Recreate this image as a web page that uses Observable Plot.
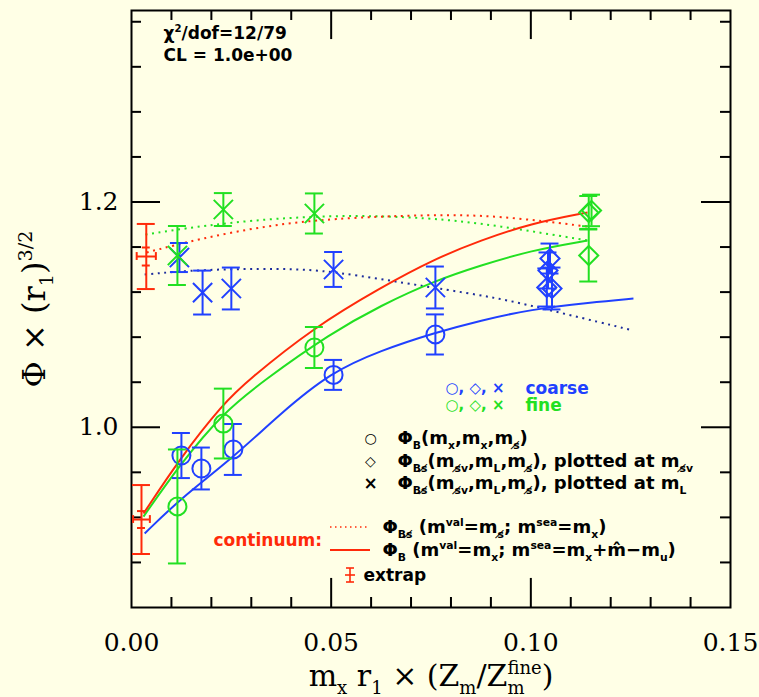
<!DOCTYPE html>
<html>
<head>
<meta charset="utf-8">
<script src="https://cdn.jsdelivr.net/npm/d3@7"></script>
<script src="https://cdn.jsdelivr.net/npm/@observablehq/plot@0.6"></script>
<style>
html,body{margin:0;padding:0;background:#ffffe6;}
svg{display:block;}
</style>
</head>
<body>
<div id="chart"></div>
<script>
// ---------------- data ----------------
// points: [x, y, yErr]
const coarseCircle = [
  [0.0125, 0.9749, 0.0200],
  [0.0175, 0.9634, 0.0186],
  [0.0255, 0.9803, 0.0226],
  [0.0506, 1.0465, 0.0133],
  [0.0761, 1.0824, 0.0178]
];
const fineCircle = [
  [0.0115, 0.9297, 0.0506],
  [0.0230, 1.0033, 0.0310],
  [0.0458, 1.0708, 0.0182]
];
const coarseDiamond = [
  [0.1048, 1.1498, 0.0133],
  [0.1043, 1.1392, 0.0160],
  [0.1040, 1.1241, 0.0169],
  [0.1053, 1.1232, 0.0186]
];
const fineDiamond = [
  [0.1145, 1.1907, 0.0146],
  [0.1152, 1.1925, 0.0140],
  [0.1145, 1.1525, 0.0231]
];
const coarseCross = [
  [0.0120, 1.1507, 0.0129],
  [0.0178, 1.1196, 0.0195],
  [0.0250, 1.1232, 0.0186],
  [0.0506, 1.1401, 0.0155],
  [0.0761, 1.1241, 0.0186]
];
const fineCross = [
  [0.0115, 1.1525, 0.0262],
  [0.0230, 1.1933, 0.0146],
  [0.0458, 1.1898, 0.0178]
];
// extrapolated: [x, y, yErrTotal, yErrStat, xErr]
const extrap = [
  [0.0037, 1.1516, 0.0289, 0.0080, 0.0024],
  [0.0025, 0.9181, 0.0306, 0.0075, 0.0021]
];
// fit curves: [x, y]
const redSolid = [
  [0.0030, 0.9234], [0.0123, 0.9732], [0.0230, 1.0211], [0.0291, 1.0415], [0.0456, 1.0885],
  [0.0624, 1.1241], [0.0761, 1.1498], [0.0874, 1.1658], [0.0999, 1.1809], [0.1142, 1.1907]
];
const greenSolid = [
  [0.0030, 0.9207], [0.0123, 0.9678], [0.0230, 1.0131], [0.0331, 1.0415], [0.0498, 1.0832],
  [0.0624, 1.1081], [0.0761, 1.1303], [0.0874, 1.1436], [0.0999, 1.1569], [0.1142, 1.1658]
];
const blueSolid = [
  [0.0033, 0.9057], [0.0123, 0.9368], [0.0255, 0.9732], [0.0373, 1.0122], [0.0498, 1.0486],
  [0.0624, 1.0682], [0.0761, 1.0841], [0.0874, 1.0948], [0.0999, 1.1046], [0.1150, 1.1108], [0.1257, 1.1143]
];
const redDotted = [
  [0.0038, 1.1552], [0.0173, 1.1676], [0.0341, 1.1791], [0.0498, 1.1853],
  [0.0749, 1.1889], [0.0917, 1.1880], [0.1142, 1.1782]
];
const greenDotted = [
  [0.0035, 1.1711], [0.0230, 1.1818], [0.0498, 1.1889], [0.0749, 1.1862],
  [0.0917, 1.1791], [0.1142, 1.1658]
];
const blueDotted = [
  [0.0033, 1.1356], [0.0173, 1.1401], [0.0373, 1.1410], [0.0498, 1.1392],
  [0.0749, 1.1241], [0.0917, 1.1152], [0.1082, 1.1010], [0.1257, 1.0859]
];
// ticks
const xMajorTicks = [0.05, 0.10];
const xMinorTicks = [0.01, 0.02, 0.03, 0.04, 0.06, 0.07, 0.08, 0.09, 0.11, 0.12, 0.13, 0.14];
const yMajorTicks = [1.0, 1.2];
const yMinorTicks = [0.88, 0.92, 0.96, 1.04, 1.08, 1.12, 1.16, 1.24, 1.28, 1.32, 1.36];
const xTickLabels = [0.00, 0.05, 0.10, 0.15];
const yTickLabels = [1.0, 1.2];

// ---------------- styles ----------------
const BLUE = "#2040ff", GREEN = "#22e022", RED = "#ff2a0a", NAVY = "#1c2c9c";
const X_DOMAIN = [0, 0.15], Y_DOMAIN = [0.84, 1.37];
const SERIF = "DejaVu Serif", SANS = "DejaVu Sans";
const CAP = 0.00225;           // error bar cap half-width (x units)
const TX_MAJ = 0.0258, TX_MIN = 0.0089;  // x-axis tick lengths (y units)
const TY_MAJ = 0.00726, TY_MIN = 0.0025; // y-axis tick lengths (x units)

function errBars(pts, color) {
  return [
    Plot.ruleX(pts, {x: d => d[0], y1: d => d[1] - d[2], y2: d => d[1] + d[2], stroke: color, strokeWidth: 2}),
    Plot.ruleY(pts, {y: d => d[1] + d[2], x1: d => d[0] - CAP, x2: d => d[0] + CAP, stroke: color, strokeWidth: 2}),
    Plot.ruleY(pts, {y: d => d[1] - d[2], x1: d => d[0] - CAP, x2: d => d[0] + CAP, stroke: color, strokeWidth: 2})
  ];
}
function dots(pts, color, symbol, r) {
  return Plot.dot(pts, {x: d => d[0], y: d => d[1], symbol, r, stroke: color, strokeWidth: 2, fill: "none"});
}
function curve(pts, color, dotted) {
  return Plot.line(pts, {x: d => d[0], y: d => d[1], stroke: color, strokeWidth: 2,
    strokeDasharray: dotted ? "2,4.6" : null, strokeLinecap: "butt", curve: "basis"});
}
const yMin = Y_DOMAIN[0], yMax = Y_DOMAIN[1], xMin = X_DOMAIN[0], xMax = X_DOMAIN[1];
const tickStyle = {stroke: "black", strokeWidth: 2};

function label(text, dx, dy, opts = {}) {
  return Plot.text([text], {frameAnchor: "top-left", dx, dy, textAnchor: "start", lineAnchor: "middle",
    fontFamily: SANS, fontWeight: "bold", fontSize: 18, fill: "black", ...opts});
}
const S = "s\u0338";

const chart = Plot.plot({
  width: 759, height: 697,
  marginLeft: 131, marginRight: 29, marginTop: 10, marginBottom: 90,
  x: {domain: X_DOMAIN, axis: null},
  y: {domain: Y_DOMAIN, axis: null},
  style: {background: "#ffffe6", overflow: "visible"},
  marks: [
    // ticks
    Plot.ruleX(xMinorTicks, {x: d => d, y1: yMin, y2: yMin + TX_MIN, ...tickStyle}),
    Plot.ruleX(xMajorTicks, {x: d => d, y1: yMin, y2: yMin + TX_MAJ, ...tickStyle}),
    Plot.ruleX(xMinorTicks, {x: d => d, y1: yMax, y2: yMax - TX_MIN, ...tickStyle}),
    Plot.ruleX(xMajorTicks, {x: d => d, y1: yMax, y2: yMax - TX_MAJ, ...tickStyle}),
    Plot.ruleY(yMinorTicks, {y: d => d, x1: xMin, x2: xMin + TY_MIN, ...tickStyle}),
    Plot.ruleY(yMajorTicks, {y: d => d, x1: xMin, x2: xMin + TY_MAJ, ...tickStyle}),
    Plot.ruleY(yMinorTicks, {y: d => d, x1: xMax, x2: xMax - TY_MIN, ...tickStyle}),
    Plot.ruleY(yMajorTicks, {y: d => d, x1: xMax, x2: xMax - TY_MAJ, ...tickStyle}),
    Plot.frame({stroke: "black", strokeWidth: 2}),
    // curves
    curve(blueDotted, NAVY, true),
    curve(greenDotted, GREEN, true),
    curve(redDotted, RED, true),
    curve(blueSolid, BLUE, false),
    curve(greenSolid, GREEN, false),
    curve(redSolid, RED, false),
    // error bars + markers
    ...errBars(coarseCircle, BLUE), dots(coarseCircle, BLUE, "circle", 9),
    ...errBars(fineCircle, GREEN), dots(fineCircle, GREEN, "circle", 9),
    ...errBars(coarseDiamond, BLUE), dots(coarseDiamond, BLUE, "diamond2", 8.6),
    ...errBars(fineDiamond, GREEN), dots(fineDiamond, GREEN, "diamond2", 8.6),
    ...errBars(coarseCross, BLUE), dots(coarseCross, BLUE, "times", 8.8),
    ...errBars(fineCross, GREEN), dots(fineCross, GREEN, "times", 8.8),
    // extrapolated points
    Plot.ruleX(extrap, {x: d => d[0], y1: d => d[1] - d[2], y2: d => d[1] + d[2], stroke: RED, strokeWidth: 2}),
    Plot.ruleY(extrap, {y: d => d[1] + d[2], x1: d => d[0] - CAP, x2: d => d[0] + CAP, stroke: RED, strokeWidth: 2}),
    Plot.ruleY(extrap, {y: d => d[1] - d[2], x1: d => d[0] - CAP, x2: d => d[0] + CAP, stroke: RED, strokeWidth: 2}),
    Plot.ruleY(extrap, {y: d => d[1] + d[3], x1: d => d[0] - 0.001, x2: d => d[0] + 0.001, stroke: RED, strokeWidth: 2}),
    Plot.ruleY(extrap, {y: d => d[1] - d[3], x1: d => d[0] - 0.001, x2: d => d[0] + 0.001, stroke: RED, strokeWidth: 2}),
    Plot.ruleY(extrap, {y: d => d[1], x1: d => d[0] - d[4], x2: d => d[0] + d[4], stroke: RED, strokeWidth: 2}),
    Plot.ruleX(extrap, {x: d => d[0] - d[4], y1: d => d[1] - 0.0035, y2: d => d[1] + 0.0035, stroke: RED, strokeWidth: 2}),
    Plot.ruleX(extrap, {x: d => d[0] + d[4], y1: d => d[1] - 0.0035, y2: d => d[1] + 0.0035, stroke: RED, strokeWidth: 2}),
    // axis tick labels
    Plot.text(xTickLabels, {x: d => d, frameAnchor: "bottom", dy: 35, text: d => d3.format(".2f")(d),
      fontFamily: SERIF, fontSize: 25, lineAnchor: "middle", fill: "black"}),
    Plot.text(yTickLabels, {y: d => d, frameAnchor: "left", dx: -13, text: d => d.toFixed(1), textAnchor: "end",
      fontFamily: SERIF, fontSize: 25, lineAnchor: "middle", fill: "black"}),
    // axis titles
    Plot.text(["m_{x} r_{1} \u00d7 (Z_{m}/Z_{m}^{fine})"], {frameAnchor: "bottom", dy: 69, fontFamily: SERIF,
      fontSize: 30, lineAnchor: "middle", textAnchor: "middle", fill: "black"}),
    Plot.text(["\u03a6 \u00d7 (r_{1})^{3/2}"], {frameAnchor: "left", dx: -97, rotate: -90, fontFamily: SERIF,
      fontSize: 32, lineAnchor: "middle", textAnchor: "middle", fill: "black"}),
    // annotations
    label("\u03c7^{2}/dof=12/79", 32, 23, {fontSize: 17}),
    label("CL = 1.0e+00", 32, 45, {fontSize: 17}),
    label("\u25cb, \u25c7, \u00d7", 314, 378, {fill: BLUE, fontSize: 15}),
    label("coarse", 394, 378, {fill: BLUE, fontSize: 17}),
    label("\u25cb, \u25c7, \u00d7", 314, 395, {fill: GREEN, fontSize: 15}),
    label("fine", 394, 395, {fill: GREEN, fontSize: 17}),
    label("\u25cb", 239, 428, {fontSize: 14, fontWeight: "normal", textAnchor: "middle"}),
    label("\u25c7", 239, 451, {fontSize: 14, fontWeight: "normal", textAnchor: "middle"}),
    label("\u00d7", 239, 473, {fontSize: 17, textAnchor: "middle"}),
    label(`\u03a6_{B}(m_{x},m_{x},m_{${S}})`, 266, 428),
    label(`\u03a6_{B${S}}(m_{${S}v},m_{L},m_{${S}}), plotted at m_{${S}v}`, 266, 451),
    label(`\u03a6_{B${S}}(m_{${S}v},m_{L},m_{${S}}), plotted at m_{L}`, 266, 473),
    label(`\u03a6_{B${S}} (m^{val}=m_{${S}}; m^{sea}=m_{x})`, 251, 517),
    label("continuum:", 82, 530, {fill: RED, fontSize: 17}),
    label("\u03a6_{B} (m^{val}=m_{x}; m^{sea}=m_{x}+m\u0302\u2212m_{u})", 251, 540),
    label("extrap", 232, 565, {fontSize: 17})
  ]
});

document.getElementById("chart").appendChild(chart);

// rich text: _{sub} and ^{sup}
const NS = "http://www.w3.org/2000/svg";
chart.querySelectorAll("text").forEach(el => {
  const t = el.textContent;
  if (!/[_^]\{/.test(t)) return;
  const fs = parseFloat(getComputedStyle(el).fontSize) || 16;
  while (el.firstChild) el.removeChild(el.firstChild);
  const re = /([_^])\{([^}]*)\}|([^_^]+)/g;
  let shift = 0, m, prevSub = null;
  while ((m = re.exec(t))) {
    const ts = document.createElementNS(NS, "tspan");
    let target = 0, txt, kind = null;
    if (m[1]) { kind = m[1]; target = kind === "_" ? 0.26 * fs : -0.4 * fs; txt = m[2]; }
    else txt = m[3];
    ts.setAttribute("dy", (target - shift).toFixed(2));
    shift = target;
    if (kind) ts.setAttribute("font-size", (0.6 * fs).toFixed(1));
    ts.textContent = txt;
    el.appendChild(ts);
    if (kind === "^" && prevSub) ts.setAttribute("dx", (-prevSub.getComputedTextLength()).toFixed(2));
    prevSub = kind === "_" ? ts : null;
  }
});

// legend samples (decorations, in pixels)
const g = d3.select(chart).append("g");
g.append("line").attr("x1", 330).attr("x2", 370).attr("y1", 527).attr("y2", 527)
  .attr("stroke", RED).attr("stroke-width", 1.5).attr("stroke-dasharray", "1.5,3.5");
g.append("line").attr("x1", 330).attr("x2", 370).attr("y1", 550).attr("y2", 550)
  .attr("stroke", RED).attr("stroke-width", 2);
const ex = g.append("g").attr("stroke", RED).attr("stroke-width", 1.6);
ex.append("line").attr("x1", 350).attr("x2", 350).attr("y1", 568).attr("y2", 582);
ex.append("line").attr("x1", 346).attr("x2", 354).attr("y1", 568).attr("y2", 568);
ex.append("line").attr("x1", 346).attr("x2", 354).attr("y1", 582).attr("y2", 582);
ex.append("line").attr("x1", 345).attr("x2", 355).attr("y1", 575).attr("y2", 575);
</script>
</body>
</html>
